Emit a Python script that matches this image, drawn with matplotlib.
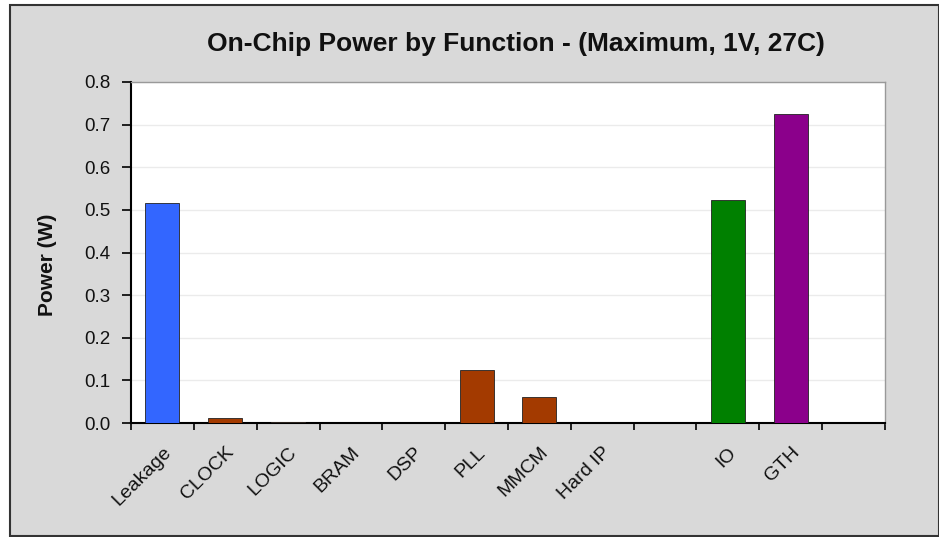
import numpy as np
import matplotlib.pyplot as plt
from matplotlib.patches import Rectangle

# ============ Dados ============
categorias = ['Leakage', 'CLOCK', 'LOGIC', 'BRAM', 'DSP', 'PLL', 'MMCM',
              'Hard IP', '', 'IO', 'GTH', '']
potencia = [0.516, 0.012, 0.002, 0.0, 0.0, 0.125, 0.062, 0.0, 0.0, 0.522, 0.725, 0.0]
cores = ['#3366FF', '#A33A00', '#A33A00', '#A33A00', '#A33A00', '#A33A00',
         '#A33A00', '#A33A00', '#A33A00', '#008000', '#8B008B', '#8B008B']
yticks = [0.0, 0.1, 0.2, 0.3, 0.4, 0.5, 0.6, 0.7, 0.8]

plt.rcParams['font.family'] = ['Liberation Sans', 'DejaVu Sans']

fig = plt.figure(figsize=(9.39, 5.37), dpi=100)
fig.patch.set_facecolor('white')
fig.patches.append(Rectangle((10 / 939, 1 / 537), 929 / 939, 531 / 537,
                             transform=fig.transFigure, facecolor='#D9D9D9',
                             edgecolor='#333333', linewidth=1.5, zorder=-10))

ax = fig.add_axes([131 / 939, 114 / 537, 754 / 939, 341 / 537])
ax.set_facecolor('white')

x = np.arange(len(categorias))
ax.bar(x, potencia, width=0.54, color=cores, edgecolor='#222222',
       linewidth=0.6, zorder=3)

ax.set_xlim(-0.5, len(categorias) - 0.5)
ax.set_ylim(0, 0.8)
ax.set_yticks(yticks)
ax.set_yticklabels([f'{v:.1f}' for v in yticks], fontsize=13.5, color='#111111')
ax.grid(axis='y', color='#EBEBEB', linewidth=1, zorder=0)

ax.set_xticks(x)
ax.set_xticklabels(categorias, rotation=45, ha='right', rotation_mode='anchor',
                   fontsize=14, color='#111111')
ax.tick_params(axis='x', which='major', length=0, pad=15)
ax.set_xticks(np.arange(-0.5, len(categorias)), minor=True)
ax.tick_params(axis='x', which='minor', length=5, width=1.2, direction='out')
ax.tick_params(axis='y', length=6.5, width=1.2, direction='out', pad=8)

for lado in ['left', 'bottom']:
    ax.spines[lado].set_color('black')
    ax.spines[lado].set_linewidth(1.5)
for lado in ['top', 'right']:
    ax.spines[lado].set_color('#999999')
    ax.spines[lado].set_linewidth(1)

ax.set_ylabel('Power (W)', fontsize=15, fontweight='bold', color='#111111')
ax.yaxis.set_label_coords(-0.098, 0.463)
fig.text(516 / 939, 1 - 44 / 537, 'On-Chip Power by Function - (Maximum, 1V, 27C)',
         ha='center', va='center', fontsize=19, fontweight='bold', color='#111111')

plt.savefig('out.png', dpi=100)
